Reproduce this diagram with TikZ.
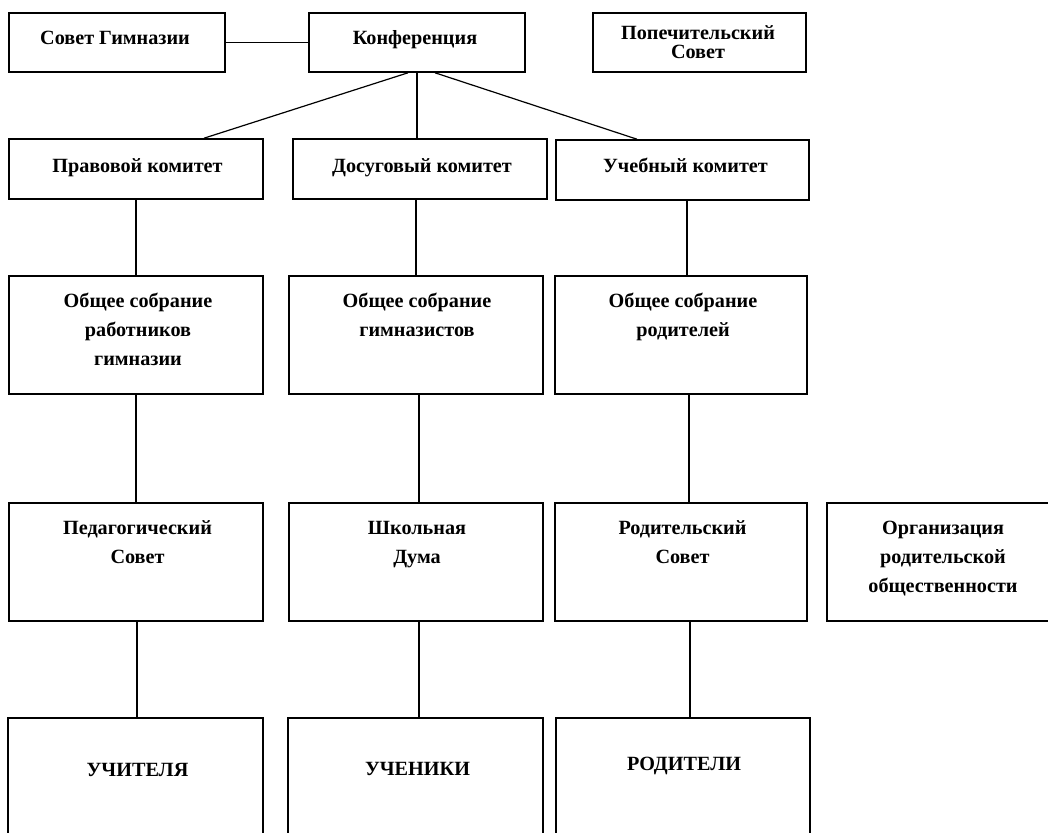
\documentclass[tikz,border=0pt]{standalone}
\usepackage{fontspec}
\setmainfont{Liberation Serif}
\usetikzlibrary{calc}
\begin{document}
\begin{tikzpicture}[x=1pt,y=-1pt,
  box/.style={draw=black, line width=1.6pt, rectangle, inner sep=0pt},
  lbl/.style={font=\bfseries\fontsize{20.2}{29}\selectfont, align=center, inner sep=0pt, anchor=base},
  conn/.style={draw=black, line width=1.2pt}]
\clip (0,0) rectangle (1048,832);
\fill[white] (0,0) rectangle (1048,832);
% row 1
\node[box, minimum width=216pt, minimum height=59pt] (sovet) at (117,42.5) {};
\node[box, minimum width=216pt, minimum height=59pt] (konf) at (417,42.5) {};
\node[box, minimum width=213pt, minimum height=59pt] (popech) at (699.5,42.5) {};
% row 2
\node[box, minimum width=254pt, minimum height=60pt] (prav) at (136,169) {};
\node[box, minimum width=254pt, minimum height=60pt] (dosug) at (420,169) {};
\node[box, minimum width=253pt, minimum height=60pt] (ucheb) at (682.5,170) {};
% row 3
\node[box, minimum width=254pt, minimum height=118pt] (obsh1) at (136,335) {};
\node[box, minimum width=254pt, minimum height=118pt] (obsh2) at (416,335) {};
\node[box, minimum width=252pt, minimum height=118pt] (obsh3) at (681,335) {};
% row 4
\node[box, minimum width=254pt, minimum height=118pt] (ped) at (136,562) {};
\node[box, minimum width=254pt, minimum height=118pt] (duma) at (416,562) {};
\node[box, minimum width=252pt, minimum height=118pt] (rodsov) at (681,562) {};
\node[box, minimum width=232pt, minimum height=118pt] (org) at (943,562) {};
% row 5
\node[box, minimum width=255pt, minimum height=132pt] (uch) at (135.5,784) {};
\node[box, minimum width=255pt, minimum height=132pt] (ucen) at (415.5,784) {};
\node[box, minimum width=254pt, minimum height=132pt] (rodit) at (683,784) {};

% texts (base anchor = baseline of the last line)
\node[lbl] (t-sovet) at (115,45) {Совет Гимназии};
\node[lbl] (t-konf) at (415,45) {Конференция};
\node[lbl, font=\bfseries\fontsize{20.2}{19}\selectfont] (t-popech) at (698,59) {Попечительский\\Совет};
\node[lbl] (t-prav) at (137.5,172) {Правовой комитет};
\node[lbl] (t-dosug) at (422,172) {Досуговый комитет};
\node[lbl] (t-ucheb) at (685.5,172) {Учебный комитет};
\node[lbl] (t-obsh1) at (138,365) {Общее собрание\\работников\\гимназии};
\node[lbl] (t-obsh2) at (417,336) {Общее собрание\\гимназистов};
\node[lbl] (t-obsh3) at (683,336) {Общее собрание\\родителей};
\node[lbl] (t-ped) at (137.5,563) {Педагогический\\Совет};
\node[lbl] (t-duma) at (417,563) {Школьная\\Дума};
\node[lbl] (t-rodsov) at (682.5,563) {Родительский\\Совет};
\node[lbl] (t-org) at (943,592) {Организация\\родительской\\общественности};
\node[lbl] (t-uch) at (137.5,776) {УЧИТЕЛЯ};
\node[lbl] (t-ucen) at (417.5,775) {УЧЕНИКИ};
\node[lbl] (t-rodit) at (684,770) {РОДИТЕЛИ};

% connectors
\draw[conn] (sovet.east) -- (konf.west);
\draw[conn] ([xshift=-9pt]konf.south) -- ([xshift=68pt]prav.north);
\draw[conn] (konf.south) -- (konf.south |- dosug.north);
\draw[conn] ([xshift=18pt]konf.south) -- ([xshift=-45.5pt]ucheb.north);
\draw[conn] (prav.south) -- (prav.south |- obsh1.north);
\draw[conn] (obsh2.north |- dosug.south) -- (obsh2.north);
\draw[conn] ([xshift=4.5pt]ucheb.south) -- ([xshift=4.5pt]ucheb.south |- obsh3.north);
\draw[conn] (obsh1.south) -- (ped.north);
\draw[conn] ([xshift=3pt]obsh2.south) -- ([xshift=3pt]duma.north);
\draw[conn] ([xshift=8pt]obsh3.south) -- ([xshift=8pt]rodsov.north);
\draw[conn] ([xshift=1pt]ped.south) -- ([xshift=1pt]ped.south |- uch.north);
\draw[conn] ([xshift=3pt]duma.south) -- ([xshift=3pt]duma.south |- ucen.north);
\draw[conn] ([xshift=9pt]rodsov.south) -- ([xshift=9pt]rodsov.south |- rodit.north);
\end{tikzpicture}
\end{document}
